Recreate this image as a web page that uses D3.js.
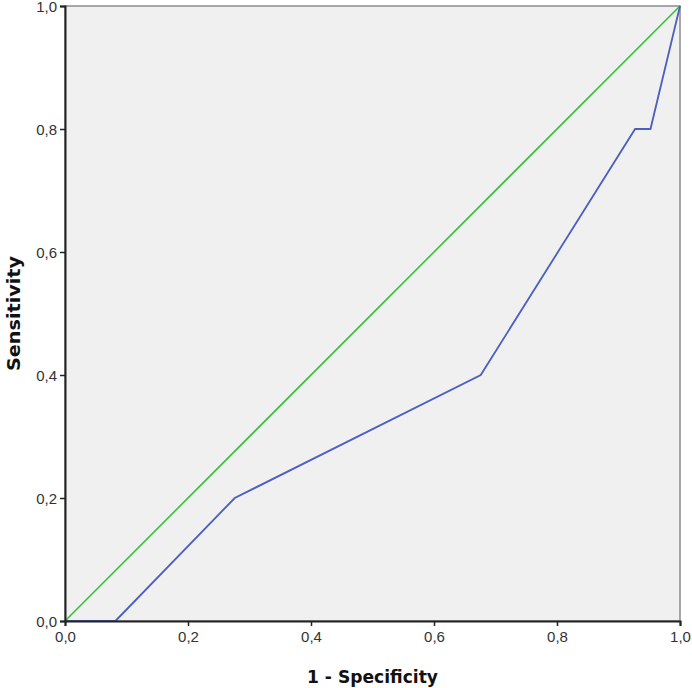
<!DOCTYPE html>
<html>
<head>
<meta charset="utf-8">
<script src="https://cdn.jsdelivr.net/npm/d3@7"></script>
<style>
  body { margin: 0; background: #fff; }
  svg { display: block; font-family: "Liberation Sans", Arial, sans-serif; }
</style>
</head>
<body>
<div id="chart"></div>
<script>
// ROC curve data (1 - specificity, sensitivity)
const rocX = [0, 0.082, 0.276, 0.676, 0.927, 0.952, 1];
const rocY = [0, 0, 0.2, 0.4, 0.8, 0.8, 1];
const refX = [0, 1];
const refY = [0, 1];
const tickValues = [0, 0.2, 0.4, 0.6, 0.8, 1];

const width = 692, height = 688;
const margin = { top: 6, right: 12, bottom: 67, left: 65 };

const svg = d3.select('#chart')
    .append('svg')
    .attr('width', width)
    .attr('height', height);

const x = d3.scaleLinear().domain([0, 1]).range([margin.left, width - margin.right]);
const y = d3.scaleLinear().domain([0, 1]).range([height - margin.bottom, margin.top]);

const fmt = d => d3.format('.1f')(d).replace('.', ',');

// Plot background
svg.append('rect')
    .attr('x', x(0))
    .attr('y', y(1))
    .attr('width', x(1) - x(0))
    .attr('height', y(0) - y(1))
    .attr('fill', '#f0f0f0')
    .attr('stroke', '#8c8c8c')
    .attr('stroke-width', 1.5);

// Reference diagonal
const line = d3.line().x(d => x(d[0])).y(d => y(d[1]));
svg.append('path')
    .attr('d', line(d3.zip(refX, refY)))
    .attr('fill', 'none')
    .attr('stroke', '#3cbd3c')
    .attr('stroke-width', 1.6);

// ROC curve
svg.append('path')
    .attr('d', line(d3.zip(rocX, rocY)))
    .attr('fill', 'none')
    .attr('stroke', '#4a5fbf')
    .attr('stroke-width', 1.8);

// Axes
const xAxis = svg.append('g')
    .attr('transform', `translate(0,${y(0)})`)
    .call(d3.axisBottom(x).tickValues(tickValues).tickFormat(fmt).tickSize(5).tickPadding(5));

const yAxis = svg.append('g')
    .attr('transform', `translate(${x(0)},0)`)
    .call(d3.axisLeft(y).tickValues(tickValues).tickFormat(fmt).tickSize(5).tickPadding(3));

[xAxis, yAxis].forEach(g => {
    g.select('.domain').attr('stroke', '#222').attr('stroke-width', 2);
    g.selectAll('.tick line').attr('stroke', '#222').attr('stroke-width', 1.5);
    g.selectAll('.tick text').attr('fill', '#333').attr('font-size', 15)
        .attr('font-family', '"Liberation Sans", Arial, sans-serif');
});
yAxis.selectAll('.tick text').attr('dy', '0.36em');

// Axis titles
svg.append('text')
    .attr('x', (x(0) + x(1)) / 2)
    .attr('y', 683)
    .attr('text-anchor', 'middle')
    .attr('font-size', 18)
    .attr('font-weight', 'bold')
    .attr('font-family', '"DejaVu Sans", Verdana, sans-serif')
    .attr('textLength', 131)
    .attr('lengthAdjust', 'spacingAndGlyphs')
    .attr('fill', '#111')
    .text('1 - Specificity');

svg.append('text')
    .attr('transform', `translate(20,${(y(0) + y(1)) / 2}) rotate(-90)`)
    .attr('text-anchor', 'middle')
    .attr('font-size', 18)
    .attr('font-weight', 'bold')
    .attr('font-family', '"DejaVu Sans", Verdana, sans-serif')
    .attr('textLength', 115)
    .attr('lengthAdjust', 'spacingAndGlyphs')
    .attr('fill', '#111')
    .text('Sensitivity');
</script>
</body>
</html>
